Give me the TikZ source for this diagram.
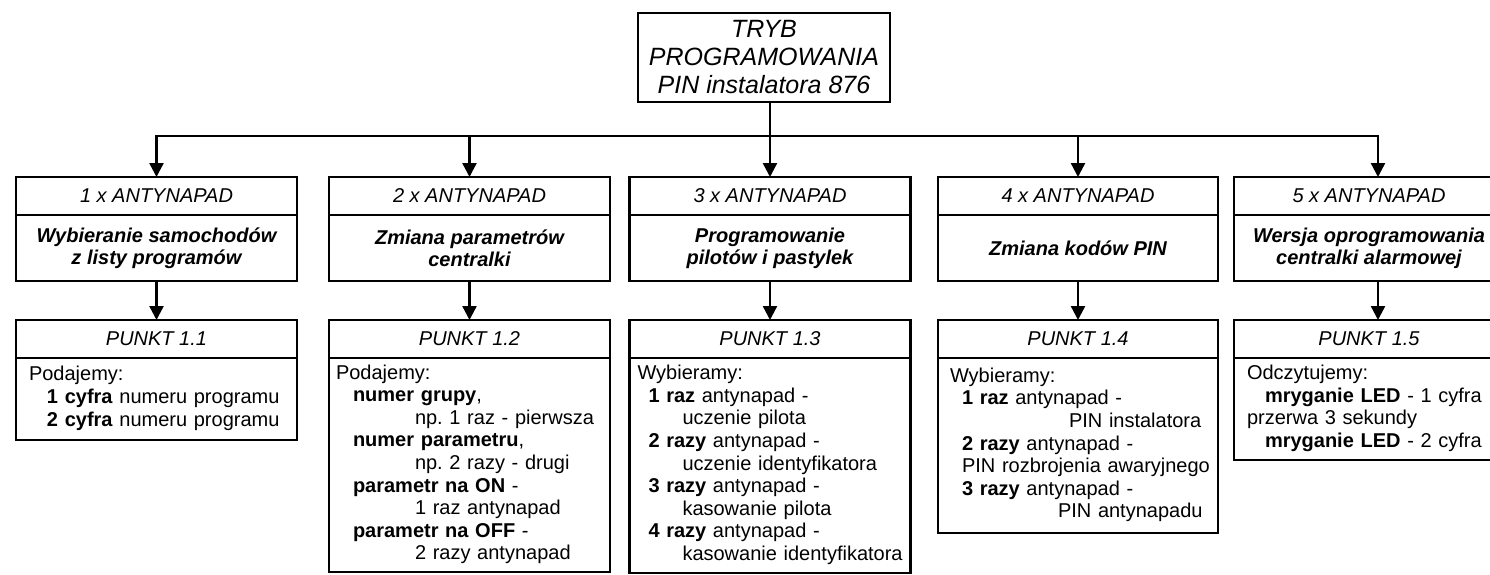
\documentclass[tikz,border=0pt]{standalone}
\usepackage{fontspec}
\setmainfont{Liberation Sans}
\frenchspacing
\usetikzlibrary{positioning,arrows.meta}

\tikzset{
  box/.style={draw, line width=1.2pt, outer sep=0pt, inner sep=0pt, minimum width=140.5pt, align=center},
  hdr/.style={box, minimum height=19pt, font=\fontsize{10}{11}\selectfont\itshape},
  title/.style={box, minimum height=33pt, font=\fontsize{10}{11}\selectfont\bfseries\itshape},
  body/.style={box, align=left, font=\fontsize{10}{11.3}\selectfont},
  arr/.style={line width=1.2pt, -{Triangle[width=7pt,length=7pt]}}
}

\begin{document}
\begin{tikzpicture}[x=0.5pt,y=-0.5pt]
	\useasboundingbox (0,0) rectangle (1490,574);
	\clip (0,0) rectangle (1490,574);
	
	\node[box, minimum width=126pt, minimum height=44.5pt, font=\fontsize{12.5}{14}\selectfont\itshape] (tryb) at (764,57.5) {TRYB\\PROGRAMOWANIA\\PIN instalatora 876};
	
	% kolumna 1
	\node[hdr] (h1) at (156.5,196) {1 x ANTYNAPAD};
	\node[title, below=0pt of h1] (t1) {Wybieranie samochodów\\z listy programów};
	\node[hdr, below=19.5pt of t1] (p1) {PUNKT 1.1};
	\node[body, below=0pt of p1, minimum height=41pt, inner xsep=6.5pt, text width=127.5pt] (b1) {\begin{tabular}{@{}l@{}}
		Podajemy:\\
		\hspace*{9pt}\textbf{1 cyfra} numeru programu\\
		\hspace*{9pt}\textbf{2 cyfra} numeru programu
	\end{tabular}};
	
	% kolumna 2
	\node[hdr] (h2) at (469.5,196) {2 x ANTYNAPAD};
	\node[title, below=0pt of h2] (t2) {Zmiana parametrów\\centralki};
	\node[hdr, below=19.5pt of t2] (p2) {PUNKT 1.2};
	\node[body, below=0pt of p2, minimum height=107pt, inner xsep=3.5pt, text width=133.5pt] (b2) {\begin{tabular}{@{}l@{}}
		Podajemy:\\
		\hspace*{8.5pt}\textbf{numer grupy},\\
		\hspace*{39.5pt}np. 1 raz - pierwsza\\
		\hspace*{8.5pt}\textbf{numer parametru},\\
		\hspace*{39.5pt}np. 2 razy - drugi\\
		\hspace*{8.5pt}\textbf{parametr na ON} -\\
		\hspace*{39.5pt}1 raz antynapad\\
		\hspace*{8.5pt}\textbf{parametr na OFF} -\\
		\hspace*{39.5pt}2 razy antynapad
	\end{tabular}};
	
	% kolumna 3
	\node[hdr] (h3) at (770,196) {3 x ANTYNAPAD};
	\node[title, below=0pt of h3] (t3) {Programowanie\\pilotów i pastylek};
	\node[hdr, below=19.5pt of t3] (p3) {PUNKT 1.3};
	\node[body, below=0pt of p3, minimum height=107.5pt, inner xsep=4pt, text width=132.5pt] (b3) {\begin{tabular}{@{}l@{}}
		Wybieramy:\\
		\hspace*{5.5pt}\textbf{1 raz} antynapad -\\
		\hspace*{22.5pt}uczenie pilota\\
		\hspace*{5.5pt}\textbf{2 razy} antynapad -\\
		\hspace*{22.5pt}uczenie identyfikatora\\
		\hspace*{5.5pt}\textbf{3 razy} antynapad -\\
		\hspace*{22.5pt}kasowanie pilota\\
		\hspace*{5.5pt}\textbf{4 razy} antynapad -\\
		\hspace*{22.5pt}kasowanie identyfikatora
	\end{tabular}};
	
	% kolumna 4
	\node[hdr, minimum width=140pt] (h4) at (1078,196) {4 x ANTYNAPAD};
	\node[title, minimum width=140pt, below=0pt of h4] (t4) {Zmiana kodów PIN};
	\node[hdr, minimum width=140pt, below=19.5pt of t4] (p4) {PUNKT 1.4};
	\node[body, minimum width=140pt, below=0pt of p4, minimum height=87.5pt, inner xsep=6pt, text width=128pt] (b4) {\begin{tabular}{@{}l@{}}
		Wybieramy:\\
		\hspace*{6pt}\textbf{1 raz} antynapad -\\
		\hspace*{59.5pt}PIN instalatora\\
		\hspace*{6pt}\textbf{2 razy} antynapad -\\
		\hspace*{6pt}PIN rozbrojenia awaryjnego\\
		\hspace*{6pt}\textbf{3 razy} antynapad -\\
		\hspace*{54pt}PIN antynapadu
	\end{tabular}};
	
	% kolumna 5
	\node[hdr, minimum width=135pt] (h5) at (1369,196) {5 x ANTYNAPAD};
	\node[title, minimum width=135pt, below=0pt of h5] (t5) {Wersja oprogramowania\\centralki alarmowej};
	\node[hdr, minimum width=135pt, below=19.5pt of t5] (p5) {PUNKT 1.5};
	\node[body, minimum width=135pt, below=0pt of p5, minimum height=51pt, inner xsep=6.5pt, text width=122pt] (b5) {\begin{tabular}{@{}l@{}}
		Odczytujemy:\\
		\hspace*{9pt}\textbf{mryganie LED} - 1 cyfra\\
		przerwa 3 sekundy\\
		\hspace*{9pt}\textbf{mryganie LED} - 2 cyfra
	\end{tabular}};
	
	% polaczenia
	\coordinate (bus) at (0,136);
	\coordinate (a5) at (1378,136);
	\draw[line width=1.2pt] (tryb.south -| h3.north) -- (h3.north |- bus);
	\draw[line width=1.2pt, line cap=rect] (h1.north |- bus) -- (a5);
	
	\draw[arr] (h1.north |- bus) -- (h1.north);
	\draw[arr] (h2.north |- bus) -- (h2.north);
	\draw[arr] (h3.north |- bus) -- (h3.north);
	\draw[arr] (h4.north |- bus) -- (h4.north);
	\draw[arr] (a5) -- (a5 |- h5.north);
	
	\draw[arr] (t1) -- (p1);
	\draw[arr] (t2) -- (p2);
	\draw[arr] (t3) -- (p3);
	\draw[arr] (t4) -- (p4);
	\draw[arr] (t5.south -| a5) -- (p5.north -| a5);
	
\end{tikzpicture}
\end{document}
